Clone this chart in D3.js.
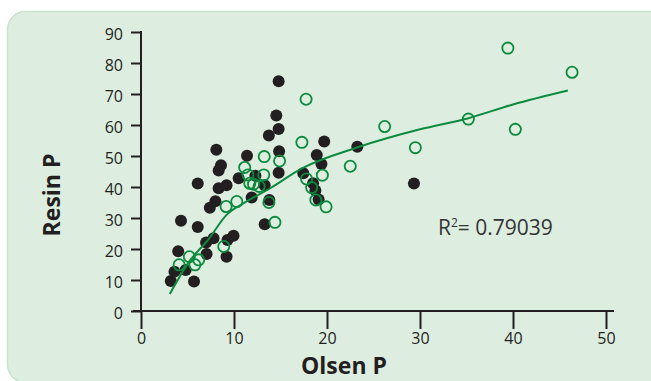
<!DOCTYPE html>
<html>
<head>
<meta charset="utf-8">
<script src="https://cdn.jsdelivr.net/npm/d3@7"></script>
<style>
  body { margin: 0; background: #fff; }
  svg { display: block; }
</style>
</head>
<body>
<div id="chart"></div>
<script>
// filled (black) samples: [Olsen P, Resin P]
const filledPts = [
  [3.2, 9.7], [3.6, 12.7], [4.0, 19.3], [4.3, 29.1], [4.8, 13.2], [5.7, 9.5],
  [6.1, 41.1], [6.1, 27.1], [7.0, 22.1], [7.05, 18.4], [7.4, 33.3], [7.8, 23.5],
  [8.0, 35.4], [8.1, 52.0], [8.35, 39.6], [8.35, 45.3], [8.6, 47.0], [9.2, 40.6],
  [9.2, 17.5], [9.3, 22.9], [9.95, 24.3], [10.5, 42.8], [11.4, 50.1], [11.9, 36.6],
  [12.3, 43.6], [13.3, 40.6], [13.3, 28.0], [13.75, 56.6], [13.8, 35.8], [14.55, 63.1],
  [14.8, 74.1], [14.8, 58.7], [14.85, 51.5], [14.8, 44.6], [17.45, 44.4], [18.5, 41.2],
  [18.9, 50.3], [18.75, 38.9], [19.1, 36.0], [19.4, 47.4], [19.7, 54.7], [23.26, 53.0],
  [29.35, 41.1]
];

// open (green) samples
const openPts = [
  [4.1, 14.9], [5.2, 17.5], [5.8, 14.9], [6.2, 16.5], [8.9, 20.8], [9.15, 33.7],
  [10.3, 35.3], [11.15, 46.3], [11.5, 43.9], [11.7, 41.2], [12.1, 40.9], [12.7, 40.2],
  [13.25, 49.8], [13.2, 43.9], [13.75, 35.0], [14.4, 28.6], [14.9, 48.4], [17.3, 54.4],
  [17.75, 68.3], [17.8, 42.6], [18.35, 39.8], [18.8, 35.8], [19.5, 43.8], [19.9, 33.6],
  [22.5, 46.7], [26.2, 59.5], [29.5, 52.7], [35.2, 61.9], [39.45, 84.8], [40.25, 58.6],
  [46.35, 77.0]
];

// trend line
const trendPts = [
  [3.1, 5.5], [5.2, 16.0], [7.3, 23.3], [9.2, 31.0], [11.0, 34.7], [13.9, 39.6],
  [17.3, 46.0], [23.3, 52.8], [30.0, 58.6], [35.2, 62.2], [40.0, 66.6], [45.9, 71.1]
];

const xTicks = [0, 10, 20, 30, 40, 50];
const yTicks = [0, 10, 20, 30, 40, 50, 60, 70, 80, 90];

const width = 651, height = 381;
const green = "#0c8a3e", ink = "#231f20";
const font = "'Open Sans', 'Noto Sans', sans-serif";

const svg = d3.select("#chart").append("svg")
    .attr("width", width)
    .attr("height", height);

// panel background
svg.append("rect")
    .attr("x", 7.5).attr("y", 11.5)
    .attr("width", 680).attr("height", 371)
    .attr("rx", 18)
    .attr("fill", "#ddeee1")
    .attr("stroke", "#c9e1ce")
    .attr("stroke-width", 1.5);

var x = d3.scaleLinear().domain([0, 50]).range([141, 606]);
var y = d3.scaleLinear().domain([0, 90]).range([311, 32]);

// y axis
var yAxis = svg.append("g")
    .attr("transform", "translate(" + x(0) + ",0)")
    .call(d3.axisLeft(y).tickValues(yTicks).tickSize(10).tickPadding(8).tickSizeOuter(0));
yAxis.select(".domain").remove();
yAxis.selectAll(".tick line").attr("stroke", ink).attr("stroke-width", 2);
yAxis.selectAll(".tick text")
    .attr("fill", ink)
    .style("font-family", font)
    .style("font-size", "16px")
    .attr("dy", "0.45em");

// x axis
var xAxis = svg.append("g")
    .attr("transform", "translate(0," + y(0) + ")")
    .call(d3.axisBottom(x).tickValues(xTicks).tickSize(18).tickPadding(4).tickSizeOuter(0));
xAxis.select(".domain").remove();
xAxis.selectAll(".tick line").attr("stroke", ink).attr("stroke-width", 2);
xAxis.selectAll(".tick text")
    .attr("fill", ink)
    .style("font-family", font)
    .style("font-size", "16px");

// axis lines
svg.append("line")
    .attr("x1", x(0) - 8).attr("x2", x(50) + 8)
    .attr("y1", y(0)).attr("y2", y(0))
    .attr("stroke", ink).attr("stroke-width", 2);
svg.append("line")
    .attr("x1", x(0)).attr("x2", x(0))
    .attr("y1", y(90) - 1).attr("y2", y(0))
    .attr("stroke", ink).attr("stroke-width", 2);

// axis titles
svg.append("text")
    .attr("x", 344).attr("y", 374)
    .attr("text-anchor", "middle")
    .attr("fill", ink)
    .style("font-family", font)
    .style("font-weight", "bold")
    .style("font-size", "23px")
    .text("Olsen P");

svg.append("text")
    .attr("transform", "translate(60,195) rotate(-90)")
    .attr("text-anchor", "middle")
    .attr("fill", ink)
    .style("font-family", font)
    .style("font-weight", "bold")
    .style("font-size", "23px")
    .text("Resin P");

// points
svg.append("g").selectAll("circle")
    .data(filledPts)
  .enter().append("circle")
    .attr("cx", d => x(d[0]))
    .attr("cy", d => y(d[1]))
    .attr("r", 6)
    .attr("fill", ink);

svg.append("g").selectAll("circle")
    .data(openPts)
  .enter().append("circle")
    .attr("cx", d => x(d[0]))
    .attr("cy", d => y(d[1]))
    .attr("r", 5.6)
    .attr("fill", "none")
    .attr("stroke", green)
    .attr("stroke-width", 1.8);

// trend line
var trend = d3.line()
    .x(d => x(d[0]))
    .y(d => y(d[1]))
    .curve(d3.curveMonotoneX);
svg.append("path")
    .datum(trendPts)
    .attr("d", trend)
    .attr("fill", "none")
    .attr("stroke", green)
    .attr("stroke-width", 2);

// R squared label
var r2 = svg.append("text")
    .attr("x", 438).attr("y", 235)
    .attr("fill", "#333333")
    .style("font-family", font)
    .style("font-size", "21px");
r2.append("tspan").text("R");
r2.append("tspan").attr("dy", -8).style("font-size", "12px").text("2");
r2.append("tspan").attr("dy", 8).text("= 0.79039");
</script>
</body>
</html>
